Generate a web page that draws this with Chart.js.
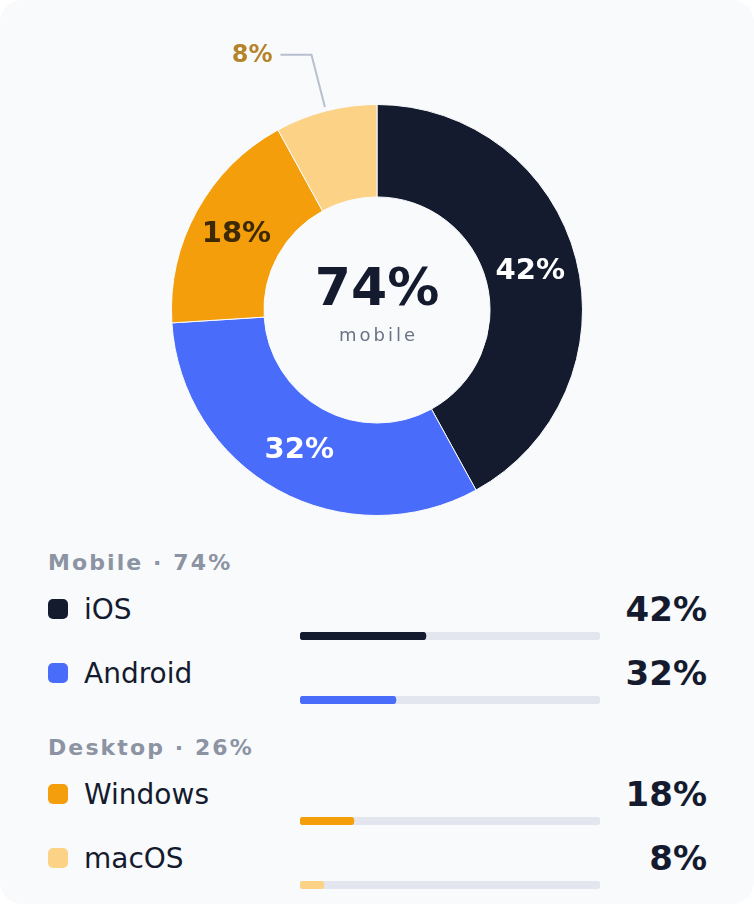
<!DOCTYPE html>
<html>
<head>
<meta charset="utf-8">
<script src="https://cdn.jsdelivr.net/npm/chart.js@4/dist/chart.umd.min.js"></script>
<style>
  html, body { margin: 0; padding: 0; background: #ffffff; }
  body { width: 754px; height: 904px; overflow: hidden; font-family: "DejaVu Sans", sans-serif; }
  .card { position: relative; width: 754px; height: 904px; background: #f8fafc; border-radius: 22px; overflow: hidden; }
  .donut { position: absolute; left: 0; top: 0; width: 754px; height: 540px; }
  .t { position: absolute; line-height: 1; white-space: nowrap; }
  .center-val { font-weight: bold; font-size: 52px; color: #151b2e; width: 754px; text-align: center; left: 0; }
  .center-sub { font-size: 18px; color: #6b7385; letter-spacing: 3px; width: 757px; text-align: center; left: 0; }
  .hdr { left: 48px; font-size: 22px; font-weight: bold; color: #8c93a3; letter-spacing: 2.1px; }
  .sw { position: absolute; left: 48px; width: 20px; height: 20px; border-radius: 5px; }
  .lbl { left: 84px; font-size: 28px; color: #151b2e; }
  .pct { right: 47px; font-size: 34px; font-weight: bold; color: #151b2e; text-align: right; }
  .bar { position: absolute; left: 300px; width: 300px; height: 8px; }
</style>
</head>
<body>
<div class="card" id="card">
  <div class="donut"><canvas id="donutChart"></canvas></div>
</div>
<script>
// data
const platforms = ['iOS', 'Android', 'Windows', 'macOS'];
const shares = [42, 32, 18, 8];
const platformGroup = ['Mobile', 'Mobile', 'Desktop', 'Desktop'];
const groupNames = ['Mobile', 'Desktop'];
const centerGroup = 'Mobile';

// styling
const sliceColors = ['#151b2e', '#4a6cfa', '#f49e0c', '#fcd386'];
const sliceLabelColors = ['#ffffff', '#ffffff', '#3d2a04', '#b5842a'];
const trackColor = '#e3e6ef';

const groupTotal = g => shares.filter((v, i) => platformGroup[i] === g).reduce((a, b) => a + b, 0);

// labels drawn on each slice, small slices get a leader line
const sliceLabels = {
    id: 'sliceLabels',
    afterDatasetsDraw(chart) {
        const c = chart.ctx;
        const arcs = chart.getDatasetMeta(0).data;
        c.save();
        arcs.forEach((arc, i) => {
            const p = arc.getProps(['x', 'y', 'startAngle', 'endAngle', 'innerRadius', 'outerRadius']);
            const mid = (p.startAngle + p.endAngle) / 2;
            const txt = shares[i] + '%';
            if (shares[i] < 10) {
                const r1 = p.outerRadius + 4, r2 = p.outerRadius + 58;
                const x1 = p.x + Math.cos(mid) * r1, y1 = p.y + Math.sin(mid) * r1;
                const x2 = p.x + Math.cos(mid) * r2, y2 = p.y + Math.sin(mid) * r2;
                c.strokeStyle = '#b8bfcf';
                c.lineWidth = 2;
                c.beginPath();
                c.moveTo(x1, y1);
                c.lineTo(x2, y2);
                c.lineTo(x2 - 31, y2);
                c.stroke();
                c.fillStyle = sliceLabelColors[i];
                c.font = 'bold 24px "DejaVu Sans"';
                c.textAlign = 'right';
                c.textBaseline = 'middle';
                c.fillText(txt, x2 - 39, y2 + 1);
            } else {
                const r = (p.innerRadius + p.outerRadius) / 2;
                c.fillStyle = sliceLabelColors[i];
                c.font = 'bold 29px "DejaVu Sans"';
                c.textAlign = 'center';
                c.textBaseline = 'middle';
                c.fillText(txt, p.x + Math.cos(mid) * r - 1, p.y + Math.sin(mid) * r + 1);
            }
        });
        c.restore();
    }
};

const donutChart = new Chart(document.getElementById('donutChart'), {
    type: 'doughnut',
    data: {
        labels: platforms,
        datasets: [{
            data: shares,
            backgroundColor: sliceColors,
            borderColor: '#f8fafc',
            borderWidth: 1
        }]
    },
    options: {
        responsive: true,
        maintainAspectRatio: false,
        animation: false,
        cutout: '55%',
        layout: { padding: { top: 104, bottom: 24 } },
        plugins: { legend: { display: false }, tooltip: { enabled: false } }
    },
    plugins: [sliceLabels]
});

// legend + progress bars
const card = document.getElementById('card');
function addText(cls, text, baseline, size) {
    const el = document.createElement('div');
    el.className = 't ' + cls;
    el.textContent = text;
    el.style.top = (baseline - 0.846 * size) + 'px';
    card.appendChild(el);
    return el;
}

addText('center-val', groupTotal(centerGroup) + '%', 305, 52);
addText('center-sub', centerGroup.toLowerCase(), 341, 18);

let y = 570;
groupNames.forEach((g, gi) => {
    if (gi > 0) y += 28;
    addText('hdr', g + ' · ' + groupTotal(g) + '%', y + 1, 22);
    let swTop = y + 29;
    platforms.forEach((name, i) => {
        if (platformGroup[i] !== g) return;
        const sw = document.createElement('div');
        sw.className = 'sw';
        sw.style.top = swTop + 'px';
        sw.style.background = sliceColors[i];
        card.appendChild(sw);
        addText('lbl', name, swTop + 21, 28);
        addText('pct', shares[i] + '%', swTop + 22, 34);

        const holder = document.createElement('div');
        holder.className = 'bar';
        holder.style.top = (swTop + 33) + 'px';
        const cv = document.createElement('canvas');
        holder.appendChild(cv);
        card.appendChild(holder);
        new Chart(cv, {
            type: 'bar',
            data: {
                labels: [name],
                datasets: [
                    { data: [shares[i]], backgroundColor: sliceColors[i], borderRadius: 4, borderSkipped: false, grouped: false, barPercentage: 1, categoryPercentage: 1 },
                    { data: [100], backgroundColor: trackColor, borderRadius: 4, borderSkipped: false, grouped: false, barPercentage: 1, categoryPercentage: 1 }
                ]
            },
            options: {
                indexAxis: 'y',
                responsive: true,
                maintainAspectRatio: false,
                animation: false,
                layout: { padding: 0 },
                scales: {
                    x: { display: false, min: 0, max: 100 },
                    y: { display: false }
                },
                plugins: { legend: { display: false }, tooltip: { enabled: false } }
            }
        });
        y = swTop;
        swTop += 64;
    });
    y += 64;
});
</script>
</body>
</html>
